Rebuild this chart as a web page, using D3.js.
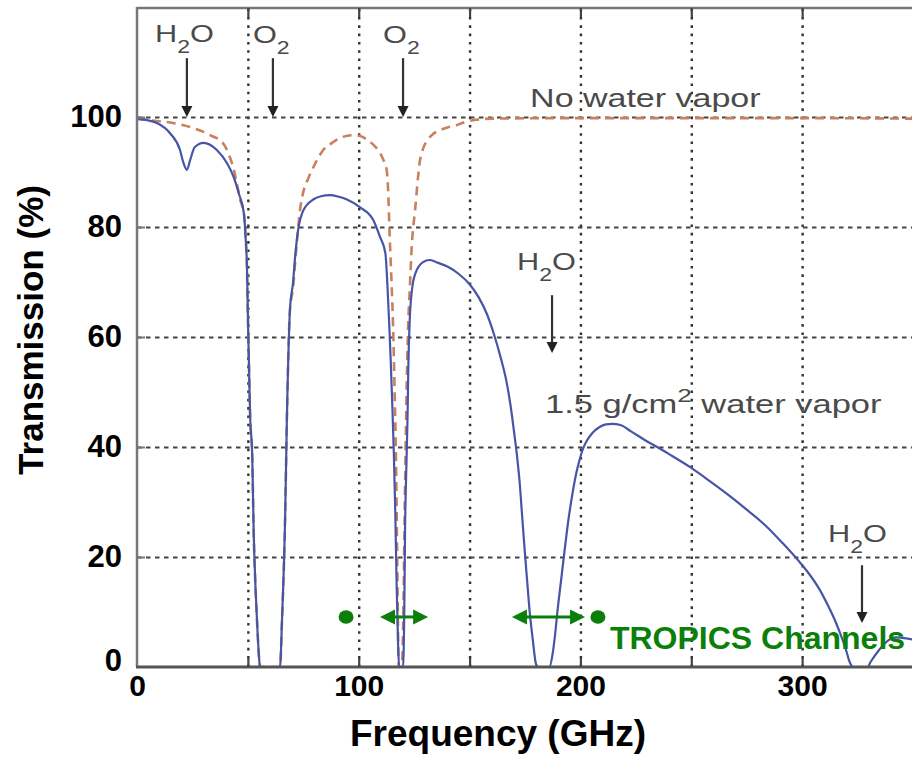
<!DOCTYPE html>
<html>
<head>
<meta charset="utf-8">
<script src="https://cdn.jsdelivr.net/npm/d3@7"></script>
<style>
  body { margin: 0; background: #fff; }
  svg { display: block; }
</style>
</head>
<body>
<script>
'use strict';

// Atmospheric transmission vs frequency.
// "1.5 g/cm2 water vapor" curve (solid blue)
var wetFreq = [0, 5, 9, 15, 19.4, 21, 22.5, 24, 26, 30, 36, 40.6, 43.7, 46, 48.2, 49, 49.6, 50, 50.5, 51, 52, 52.6, 53.5, 54.3, 55, 55.5,
    64.5, 65.4, 66.8, 67.6, 69, 70.4, 71.3, 72.5, 75, 79.5, 83, 87, 91, 94.7, 100.5, 106.5, 109.6, 112, 113, 113.8, 114.5, 115.2, 115.9, 116.5, 117.1, 117.7, 118.2,
    120, 120.6, 120.9, 121.4, 122, 122.4, 123, 124, 125.5, 129, 132, 135, 140, 145, 150, 154, 158, 161, 164, 166.7, 168.5, 170.3, 171.5, 172.5, 173.7, 174.8, 176, 177, 178.5, 180, 181,
    186, 187.5, 188.6, 189.6, 191.2, 192.8, 194.5, 196.4, 198, 199.5, 201, 202.7, 205.5, 208.5, 211.5, 214.4, 218, 223, 229.7, 235, 240, 250, 258, 267, 275, 283.8, 291, 298.6, 303, 307.7, 311.5, 315.3, 318, 319.8, 321, 322, 323,
    329.5, 331, 334.7, 339, 342, 345, 350];
var wetTrans = [99.6, 99.4, 98.9, 97.0, 94.0, 91.6, 90.4, 92.2, 94.5, 95.3, 94.0, 91.6, 89.0, 86.0, 82.5, 78, 72.7, 64, 55, 46, 38, 25, 14, 7, 2, 0,
    0, 8.5, 27, 45, 65, 70, 74.5, 79, 83, 85, 85.6, 85.8, 85.5, 85, 83.6, 81.3, 78.2, 75.3, 69, 62, 55, 47, 38, 28, 15, 5, 0,
    0, 12, 25, 35, 45, 55, 63, 68.5, 71.5, 73.6, 74, 73.6, 72.8, 71.5, 69.6, 67.3, 64, 60.5, 56.3, 51.8, 47.5, 42, 38, 34, 27.5, 21.5, 15.5, 10.5, 5, 0.5, 0,
    0, 2.5, 6, 10, 15.5, 21, 26.5, 31.5, 35, 37.5, 39.5, 41, 42.6, 43.6, 44.1, 44.2, 44, 42.8, 41.1, 39.9, 38.7, 36.2, 33.9, 31.2, 28.6, 25.6, 22.6, 19.2, 17, 14.2, 11.3, 8, 5.2, 3.1, 1.4, 0.4, 0,
    0, 1, 3.1, 4.9, 5.4, 5.3, 5];

// "No water vapor" curve (dashed)
var dryFreq = [0, 6, 15, 21, 26, 30, 34, 38.3, 40.6, 42.5, 43.7, 45, 46.5, 48.2, 49, 49.6, 50, 50.5, 51, 52, 52.6, 53.5, 54.3, 55, 55.5,
    64.5, 65.4, 66.8, 67.6, 69, 70.4, 71.5, 72.5, 73.5, 74.9, 77, 79, 81.5, 84, 88, 91.6, 97.4, 101, 104, 107, 109.6, 111.5, 112.6, 113.2, 114, 114.8, 115.5, 116.2, 116.8, 117.3, 117.7, 118,
    119.5, 120.2, 120.8, 121.5, 122.3, 123, 124, 125.4, 127.6, 129, 131, 133.5, 136.7, 140, 144, 148, 153, 160, 200, 250, 300, 350];
var dryTrans = [99.8, 99.4, 99, 98.5, 97.9, 97.3, 96.5, 95.5, 94, 92, 90.4, 88, 85, 82.5, 78, 72.7, 64, 55, 46, 38, 25, 14, 7, 2, 0,
    0, 8.5, 27, 45, 65, 69, 74.5, 79, 83, 86.2, 88.6, 90.4, 92.4, 94, 95.3, 96.2, 96.7, 96.5, 95.8, 94.8, 93.5, 91.8, 90.4, 87.3, 78, 70, 62, 50, 38, 22, 8, 0,
    0, 12, 30, 48, 62, 68.5, 77, 83, 92, 94.2, 95.8, 96.9, 97.6, 98.1, 98.5, 99.1, 99.5, 99.7, 99.8, 99.8, 99.8, 99.7];

var xTicks = [0, 100, 200, 300];
var yTicks = [0, 20, 40, 60, 80, 100];
var xGrid = [50, 100, 150, 200, 250, 300];
var yGrid = [20, 40, 60, 80, 100];

// absorption-line labels: molecule, subscript, label freq/level, arrow freq, arrow from/to level
var lineMol   = ["H", "O", "O", "H", "H"];
var lineSub   = ["2", "2", "2", "2", "2"];
var lineTail  = ["O", "", "", "O", "O"];
var lineLabF  = [8.1, 52.3, 111, 171.4, 311.7];
var lineLabT  = [113.6, 113.4, 113.4, 72.2, 22.7];
var lineArrF  = [22.5, 61.3, 120, 187.2, 327];
var lineArrT0 = [110.7, 110.7, 110.7, 67.6, 18.5];
var lineArrT1 = [100, 100, 100, 57.1, 8];

// TROPICS channels
var chanDots = [94.3, 207.9];
var chanBands = [[109.6, 131.3], [169.1, 202.1]];
var chanLevel = 9.1;

var W = 912, H = 757;
var svg = d3.select("body").append("svg")
    .attr("width", W).attr("height", H)
    .style("font-family", "'Liberation Sans', Arial, sans-serif");

svg.append("rect").attr("width", W).attr("height", H).attr("fill", "#fff");

var x = d3.scaleLinear().domain([0, 350]).range([137, 913]);
var y = d3.scaleLinear().domain([0, 120]).range([667, 7]);

// grid
svg.append("g")
    .attr("transform", "translate(0," + y(0) + ")")
    .call(d3.axisBottom(x).tickValues(xGrid).tickFormat("").tickSize(-(y(0) - y(120))))
    .call(function(g) {
        g.select(".domain").remove();
        g.selectAll("line").attr("stroke", "#333").attr("stroke-width", 2.4)
            .attr("stroke-dasharray", "2.6,5.7");
    });

svg.append("g")
    .attr("transform", "translate(" + x(0) + ",0)")
    .call(d3.axisLeft(y).tickValues(yGrid).tickFormat("").tickSize(-(W - x(0))))
    .call(function(g) {
        g.select(".domain").remove();
        g.selectAll("line").attr("stroke", "#444").attr("stroke-width", 2)
            .attr("stroke-dasharray", "4.5,4.5");
    });

// clip for the curves
svg.append("defs").append("clipPath").attr("id", "plotclip")
    .append("rect").attr("x", x(0)).attr("y", y(120))
    .attr("width", W - x(0)).attr("height", y(0) - y(120));

var line = d3.line()
    .x(function(d) { return x(d[0]); })
    .y(function(d) { return y(d[1]); })
    .curve(d3.curveMonotoneX);

svg.append("path")
    .attr("clip-path", "url(#plotclip)")
    .datum(d3.zip(dryFreq, dryTrans))
    .attr("fill", "none")
    .attr("stroke", "#c8805e")
    .attr("stroke-width", 2.6)
    .attr("stroke-dasharray", "9,6")
    .attr("d", line);

svg.append("path")
    .attr("clip-path", "url(#plotclip)")
    .datum(d3.zip(wetFreq, wetTrans))
    .attr("fill", "none")
    .attr("stroke", "#4755a6")
    .attr("stroke-width", 2.2)
    .attr("d", line);

// frame
svg.append("line").attr("x1", x(0)).attr("x2", x(0)).attr("y1", y(120)).attr("y2", y(0))
    .attr("stroke", "#777").attr("stroke-width", 2.5);
svg.append("line").attr("x1", x(0)).attr("x2", W).attr("y1", 8).attr("y2", 8)
    .attr("stroke", "#777").attr("stroke-width", 2.5);
svg.append("line").attr("x1", x(0) - 1).attr("x2", W).attr("y1", y(0)).attr("y2", y(0))
    .attr("stroke", "#555").attr("stroke-width", 3);

// inner ticks
svg.append("g").attr("transform", "translate(0," + y(0) + ")")
    .call(d3.axisTop(x).tickValues(xGrid).tickFormat("").tickSize(9))
    .call(function(g) { g.select(".domain").remove(); g.selectAll("line").attr("stroke", "#444").attr("stroke-width", 2.2); });
svg.append("g").attr("transform", "translate(0,8)")
    .call(d3.axisBottom(x).tickValues(xGrid).tickFormat("").tickSize(9))
    .call(function(g) { g.select(".domain").remove(); g.selectAll("line").attr("stroke", "#444").attr("stroke-width", 2.2); });
svg.append("g").attr("transform", "translate(" + x(0) + ",0)")
    .call(d3.axisRight(y).tickValues(yGrid).tickFormat("").tickSize(8))
    .call(function(g) { g.select(".domain").remove(); g.selectAll("line").attr("stroke", "#777").attr("stroke-width", 2); });

// tick labels
svg.append("g").attr("transform", "translate(0," + y(0) + ")")
    .call(d3.axisBottom(x).tickValues(xTicks).tickSize(0).tickPadding(8))
    .call(function(g) {
        g.select(".domain").remove();
        g.selectAll("text").attr("font-size", 30).attr("font-weight", "bold")
            .attr("fill", "#000").style("font-family", "'Liberation Sans', Arial, sans-serif");
    });

svg.append("g").attr("transform", "translate(" + x(0) + ",0)")
    .call(d3.axisLeft(y).tickValues(yTicks).tickSize(0).tickPadding(15))
    .call(function(g) {
        g.select(".domain").remove();
        g.selectAll("text").attr("font-size", 31).attr("font-weight", "bold")
            .attr("fill", "#000").style("font-family", "'Liberation Sans', Arial, sans-serif");
        g.selectAll(".tick").filter(function(d) { return d === 0; })
            .select("text").attr("dy", "0.1em");
    });

// axis titles
svg.append("text")
    .attr("x", 498).attr("y", 746)
    .attr("text-anchor", "middle")
    .attr("font-size", 37).attr("font-weight", "bold")
    .text("Frequency (GHz)");

svg.append("text")
    .attr("transform", "translate(43,330) rotate(-90)")
    .attr("text-anchor", "middle")
    .attr("font-size", 35).attr("font-weight", "bold")
    .text("Transmission (%)");

// absorption line labels and arrows
var annoColor = "#4a4a4a";
var stretch = 1.28;
lineMol.forEach(function(m, i) {
    var g = svg.append("g")
        .attr("transform", "translate(" + x(lineLabF[i]) + "," + y(lineLabT[i]) + ") scale(" + stretch + ",1)");
    var t = g.append("text").attr("font-size", 24).attr("fill", annoColor);
    t.append("tspan").text(m);
    t.append("tspan").attr("dy", 11).attr("font-size", 18).text(lineSub[i]);
    if (lineTail[i])
        t.append("tspan").attr("dy", -11).text(lineTail[i]);

    var ax = x(lineArrF[i]), ay0 = y(lineArrT0[i]), ay1 = y(lineArrT1[i]);
    svg.append("line").attr("x1", ax).attr("x2", ax).attr("y1", ay0).attr("y2", ay1 - 8)
        .attr("stroke", "#333").attr("stroke-width", 2.2);
    svg.append("path")
        .attr("d", "M" + (ax - 5.5) + "," + (ay1 - 11) + "L" + (ax + 5.5) + "," + (ay1 - 11) + "L" + ax + "," + ay1 + "Z")
        .attr("fill", "#222");
});

// curve labels
svg.append("g")
    .attr("transform", "translate(" + x(177.3) + "," + y(101.8) + ") scale(1.36,1)")
    .append("text").attr("font-size", 25).attr("fill", annoColor)
    .text("No water vapor");

var wv = svg.append("g")
    .attr("transform", "translate(" + x(184) + "," + y(46.2) + ") scale(1.38,1)")
    .append("text").attr("font-size", 25).attr("fill", annoColor);
wv.append("tspan").text("1.5 g/cm");
wv.append("tspan").attr("dy", -11).attr("font-size", 19).text("2");
wv.append("tspan").attr("dy", 11).text(" water vapor");

// TROPICS channels
var green = "#0a7f0a";
svg.selectAll("ellipse.chan").data(chanDots).enter().append("ellipse")
    .attr("class", "chan")
    .attr("cx", function(d) { return x(d); })
    .attr("cy", y(chanLevel))
    .attr("rx", 7.5).attr("ry", 6.8)
    .attr("fill", green);

chanBands.forEach(function(b) {
    var x0 = x(b[0]), x1 = x(b[1]), cy = y(chanLevel);
    svg.append("line").attr("x1", x0 + 12).attr("x2", x1 - 12).attr("y1", cy).attr("y2", cy)
        .attr("stroke", green).attr("stroke-width", 3);
    svg.append("path")
        .attr("d", "M" + x0 + "," + cy + "L" + (x0 + 15) + "," + (cy - 7.5) + "L" + (x0 + 15) + "," + (cy + 7.5) + "Z")
        .attr("fill", green);
    svg.append("path")
        .attr("d", "M" + x1 + "," + cy + "L" + (x1 - 15) + "," + (cy - 7.5) + "L" + (x1 - 15) + "," + (cy + 7.5) + "Z")
        .attr("fill", green);
});

svg.append("text")
    .attr("x", x(213.3)).attr("y", y(3.3))
    .attr("font-size", 32).attr("font-weight", "bold")
    .attr("fill", green)
    .text("TROPICS Channels");
</script>
</body>
</html>
